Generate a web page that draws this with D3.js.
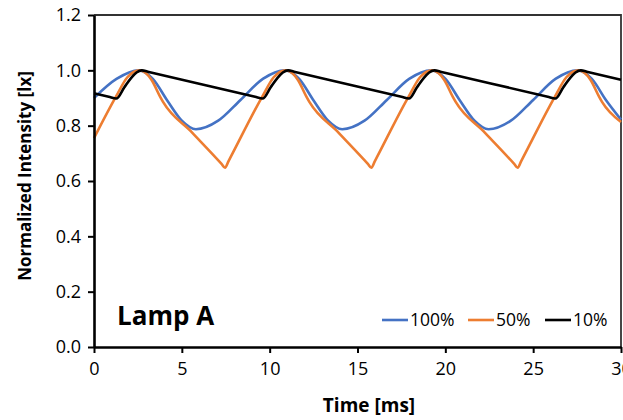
<!DOCTYPE html>
<html lang="en">
<head>
<meta charset="UTF-8">
<title>Lamp A normalized intensity</title>
<script src="https://d3js.org/d3.v7.min.js"></script>
<style>
    body { margin: 0; background: #fff; }
    svg { display: block; font-family: "Open Sans", sans-serif; }
    .tick text { font-size: 18px; fill: #000; }
    .axis-title { font-size: 17px; font-weight: bold; }
    .legend text { font-size: 17.5px; }
</style>
</head>
<body>
<svg id="chart" width="623" height="420"></svg>
<script>
    // time [ms] and normalized intensity for each dimming level
    const t100 = [0, 1.28, 2.55, 3.35, 4.15, 5.0, 5.8, 7.07, 8.34, 9.61, 10.88, 11.68, 12.48, 13.33, 14.13,
        15.4, 16.67, 17.94, 19.21, 20.01, 20.81, 21.66, 22.46, 23.73, 25.0, 26.27, 27.54, 28.34, 29.14, 30];
    const v100 = [0.90, 0.969, 1.0, 0.969, 0.893, 0.818, 0.787, 0.818, 0.893, 0.969, 1.0, 0.969, 0.893, 0.818, 0.787,
        0.818, 0.893, 0.969, 1.0, 0.969, 0.893, 0.818, 0.787, 0.818, 0.893, 0.969, 1.0, 0.969, 0.893, 0.822];

    const t50 = [0, 1.25, 1.9, 2.6, 2.95, 3.28, 3.76, 3.93, 5.6, 7.26, 7.46, 7.66,
        9.58, 10.23, 10.93, 11.28, 11.61, 12.09, 12.26, 13.93, 15.59, 15.79, 15.99,
        17.91, 18.56, 19.26, 19.61, 19.94, 20.42, 20.59, 22.26, 23.92, 24.12, 24.32,
        26.24, 26.89, 27.59, 27.94, 28.27, 28.75, 28.92, 30];
    const v50 = [0.755, 0.905, 0.975, 1.0, 0.99, 0.965, 0.905, 0.886, 0.774, 0.662, 0.648, 0.672,
        0.905, 0.975, 1.0, 0.99, 0.965, 0.905, 0.886, 0.774, 0.662, 0.648, 0.672,
        0.905, 0.975, 1.0, 0.99, 0.965, 0.905, 0.886, 0.774, 0.662, 0.648, 0.672,
        0.905, 0.975, 1.0, 0.99, 0.965, 0.905, 0.886, 0.813];

    const t10 = [0, 0.84, 1.27, 1.72, 2.12, 2.42, 2.72, 3.12, 9.17, 9.6, 10.05, 10.45, 10.75, 11.05, 11.45,
        17.5, 17.93, 18.38, 18.78, 19.08, 19.38, 19.78, 25.83, 26.26, 26.71, 27.11, 27.41, 27.71, 28.11, 30];
    const v10 = [0.917, 0.9045, 0.898, 0.938, 0.973, 0.992, 1.0, 0.994, 0.9045, 0.898, 0.938, 0.973, 0.992, 1.0, 0.994,
        0.9045, 0.898, 0.938, 0.973, 0.992, 1.0, 0.994, 0.9045, 0.898, 0.938, 0.973, 0.992, 1.0, 0.994, 0.966];

    const seriesNames = ["100%", "50%", "10%"];
    const seriesColors = ["#4472C4", "#ED7D31", "#000000"];
    const xTicks = [0, 5, 10, 15, 20, 25, 30];
    const yTicks = [0, 0.2, 0.4, 0.6, 0.8, 1.0, 1.2];

    const series = [
        t100.map((t, i) => [t, v100[i]]),
        t50.map((t, i) => [t, v50[i]]),
        t10.map((t, i) => [t, v10[i]])
    ];

    const margin = { top: 15, right: 2, bottom: 73, left: 94 };
    const W = 623, H = 420;
    const width = W - margin.left - margin.right;
    const height = H - margin.top - margin.bottom;

    const svg = d3.select("#chart");
    const g = svg.append("g")
        .attr("transform", `translate(${margin.left},${margin.top})`);

    const x = d3.scaleLinear().domain([0, 30]).range([0, width]);
    const y = d3.scaleLinear().domain([0, 1.2]).range([height, 0]);

    // frame (top + right)
    g.append("path")
        .attr("d", `M0,0H${width}V${height}`)
        .attr("fill", "none")
        .attr("stroke", "#333")
        .attr("stroke-width", 1.8);

    const line = d3.line()
        .x(d => x(d[0]))
        .y(d => y(d[1]))
        .curve(d3.curveMonotoneX);

    g.selectAll(".series")
        .data(series)
        .enter().append("path")
        .attr("class", "series")
        .attr("fill", "none")
        .attr("stroke", (d, i) => seriesColors[i])
        .attr("stroke-width", 2.6)
        .attr("stroke-linejoin", "round")
        .attr("d", line);

    const yAxis = g.append("g")
        .call(d3.axisLeft(y).tickValues(yTicks).tickFormat(d3.format(".1f")).tickSize(6).tickSizeOuter(0).tickPadding(7));
    const xAxis = g.append("g")
        .attr("transform", `translate(0,${height})`)
        .call(d3.axisBottom(x).tickValues(xTicks).tickSize(6).tickSizeOuter(0).tickPadding(9));

    [yAxis, xAxis].forEach(a => {
        a.select(".domain").attr("stroke", "#000").attr("stroke-width", 2.6);
        a.selectAll(".tick line").attr("stroke", "#000").attr("stroke-width", 2);
        a.attr("font-family", null).attr("font-size", null);
    });

    g.append("text")
        .attr("class", "axis-title")
        .attr("x", 275)
        .attr("y", height + 65)
        .style("font-size", "19px")
        .attr("text-anchor", "middle")
        .text("Time [ms]");

    g.append("text")
        .attr("class", "axis-title")
        .attr("transform", `translate(${25 - margin.left},${161}) rotate(-90)`)
        .attr("text-anchor", "middle")
        .attr("dy", "0.35em")
        .text("Normalized Intensity [lx]");

    g.append("text")
        .attr("x", 23)
        .attr("y", 310)
        .attr("font-size", 26)
        .attr("font-weight", "bold")
        .text("Lamp A");

    // legend
    const legendX = [288, 374, 451];
    const legend = g.append("g").attr("class", "legend")
        .attr("transform", `translate(0,${305})`);
    const item = legend.selectAll("g")
        .data(seriesNames)
        .enter().append("g")
        .attr("transform", (d, i) => `translate(${legendX[i]},0)`);
    item.append("line")
        .attr("x1", 0).attr("x2", 26)
        .attr("stroke", (d, i) => seriesColors[i])
        .attr("stroke-width", 2.6);
    item.append("text")
        .attr("x", 28)
        .attr("dy", "0.36em")
        .text(d => d);
</script>
</body>
</html>
